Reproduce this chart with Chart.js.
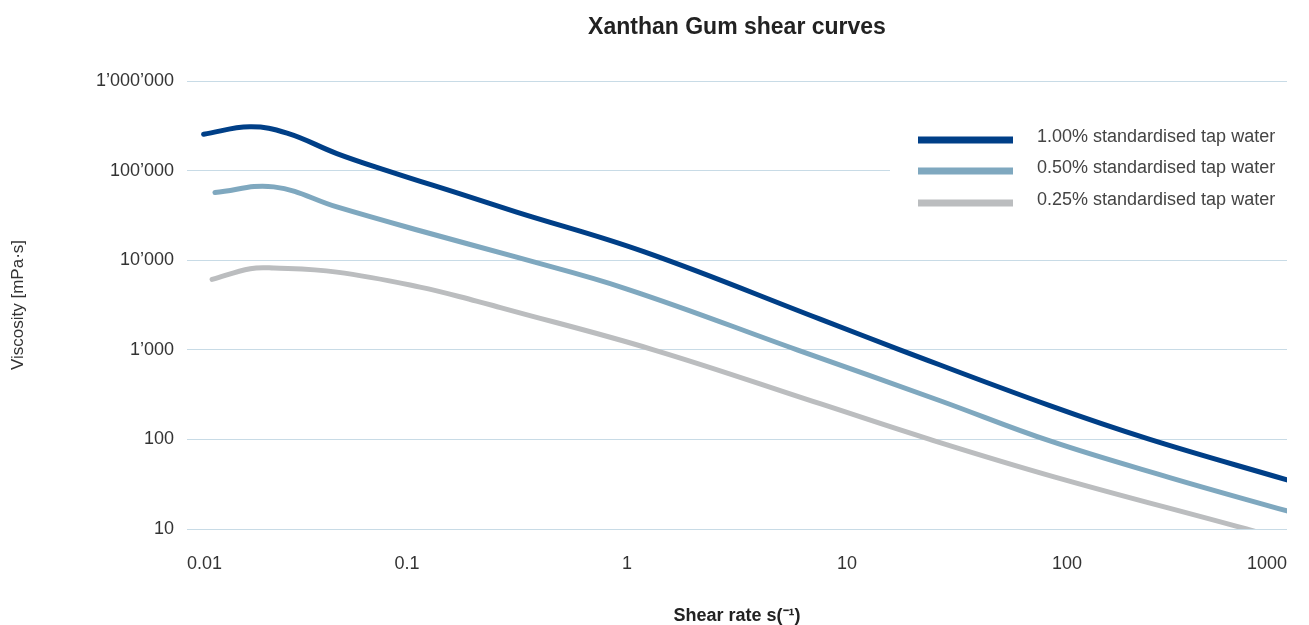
<!DOCTYPE html>
<html>
<head>
<meta charset="utf-8">
<title>Xanthan Gum shear curves</title>
<script src="https://cdn.jsdelivr.net/npm/chart.js@4/dist/chart.umd.min.js"></script>
<style>
  html, body { margin: 0; padding: 0; background: #fff; }
  #wrap { width: 1309px; height: 625px; }
</style>
</head>
<body>
<div id="wrap"><canvas id="chart"></canvas></div>
<script>
// values (shear rate s^-1, viscosity mPa·s)
const seriesLabels = ['1.00% standardised tap water', '0.50% standardised tap water', '0.25% standardised tap water'];
const seriesColors = ['#003f87', '#7fa8bf', '#bbbdbf'];

const rate100 = [0.0119, 0.0193, 0.0285, 0.048, 0.081, 0.176, 0.315, 1.2, 7.55, 17.4, 83.6, 238, 1000];
const visc100 = [254000, 308000, 262000, 155000, 100000, 54500, 34500, 12400, 2200, 1000, 238, 100, 35.3];

const rate050 = [0.0134, 0.0248, 0.048, 0.1146, 0.315, 1, 5.93, 26.5, 83.6, 293, 1000];
const visc050 = [56900, 65800, 39300, 21300, 10800, 4770, 1000, 270, 96, 37.5, 15.9];

const rate025 = [0.013, 0.0194, 0.0248, 0.048, 0.1146, 0.207, 0.266, 1.32, 7.55, 23.8, 88.2, 655, 1000];
const visc025 = [6100, 8040, 8170, 7360, 5010, 3500, 2960, 1000, 250, 100, 38, 10, 7.4];

const xTicks = [0.01, 0.1, 1, 10, 100, 1000];
const yTicks = [10, 100, 1000, 10000, 100000, 1000000];

const FONT = '"Liberation Sans", Arial, Helvetica, sans-serif';

function toPoints(xs, ys) {
  return xs.map((x, i) => ({ x: x, y: ys[i] }));
}

function fmtThousands(v) {
  return String(Math.round(v)).replace(/\B(?=(\d{3})+(?!\d))/g, '\u2019');
}

const rawSeries = [[rate100, visc100], [rate050, visc050], [rate025, visc025]];
const datasets = rawSeries.map((s, i) => ({
  label: seriesLabels[i],
  data: toPoints(s[0], s[1]),
  borderColor: seriesColors[i],
  backgroundColor: seriesColors[i],
  borderWidth: 5,
  borderCapStyle: 'round',
  borderJoinStyle: 'round',
  pointRadius: 0,
  tension: 0.4,
  fill: false
}));

// title over the plot area + legend box (white, hides the grid under it)
const decorPlugin = {
  id: 'decor',
  afterDraw(chart) {
    const ctx = chart.ctx;
    const area = chart.chartArea;
    ctx.save();
    ctx.fillStyle = '#222';
    ctx.font = 'bold 23px ' + FONT;
    ctx.textAlign = 'center';
    ctx.textBaseline = 'middle';
    ctx.fillText('Xanthan Gum shear curves', (area.left + area.right) / 2, 28);

    ctx.fillStyle = '#fff';
    ctx.fillRect(890, 116, 419, 100);
    const rows = [140, 171, 203];
    ctx.font = '18px ' + FONT;
    ctx.textAlign = 'left';
    seriesLabels.forEach((lab, i) => {
      ctx.fillStyle = seriesColors[i];
      ctx.fillRect(918, rows[i] - 3.5, 95, 7);
      ctx.fillStyle = '#444';
      ctx.fillText(lab, 1037, rows[i] - 3);
    });
    ctx.restore();
  }
};

new Chart(document.getElementById('chart'), {
  type: 'line',
  data: { datasets: datasets },
  options: {
    responsive: true,
    maintainAspectRatio: false,
    animation: false,
    layout: { padding: { top: 81, right: 22, bottom: 0, left: 0 } },
    plugins: {
      legend: { display: false },
      title: { display: false },
      tooltip: { enabled: false }
    },
    scales: {
      x: {
        type: 'logarithmic',
        min: 0.01,
        max: 1000,
        afterBuildTicks: scale => { scale.ticks = xTicks.map(v => ({ value: v })); },
        afterFit: scale => {
          scale.height = 96;
          scale.paddingLeft = 0;
          scale.paddingRight = 0;
        },
        grid: { display: false, drawTicks: false },
        border: { display: false },
        ticks: {
          color: '#333',
          font: { family: FONT, size: 18 },
          padding: 24,
          align: 'inner',
          maxRotation: 0,
          callback: v => String(v)
        },
        title: {
          display: true,
          text: 'Shear rate s(\u207B\u00B9)',
          color: '#222',
          font: { family: FONT, size: 18, weight: 'bold', lineHeight: 1.0 },
          padding: { top: 0, bottom: 0 }
        }
      },
      y: {
        type: 'logarithmic',
        min: 10,
        max: 1000000,
        afterBuildTicks: scale => { scale.ticks = yTicks.map(v => ({ value: v })); },
        afterFit: scale => { scale.width = 187; },
        grid: { color: '#c8dbe6', lineWidth: 1, drawTicks: false },
        border: { display: false },
        ticks: {
          color: '#333',
          font: { family: FONT, size: 18 },
          padding: 13,
          callback: v => fmtThousands(v)
        },
        title: {
          display: true,
          text: 'Viscosity [mPa\u00B7s]',
          color: '#333',
          font: { family: FONT, size: 17 },
          padding: { top: 8, bottom: 0 }
        }
      }
    }
  },
  plugins: [decorPlugin]
});
</script>
</body>
</html>
